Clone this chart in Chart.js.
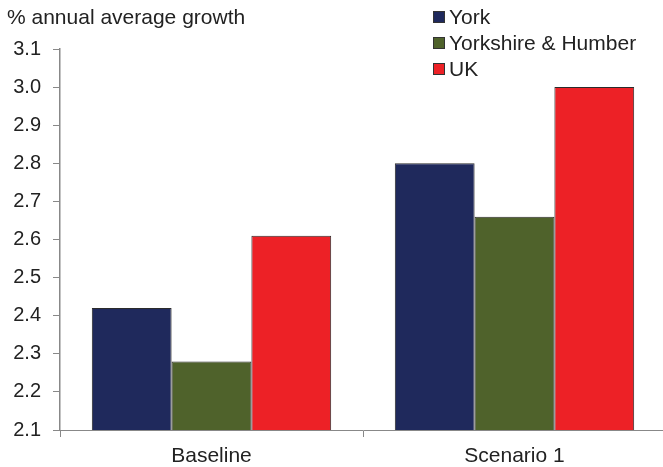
<!DOCTYPE html>
<html>
<head>
<meta charset="utf-8">
<script src="https://cdn.jsdelivr.net/npm/chart.js@4/dist/chart.umd.min.js"></script>
<style>
    body { margin: 0; overflow: hidden; background: #fff; font-family: "Liberation Sans", Arial, sans-serif; color: #222; }
    #wrap { position: relative; width: 670px; height: 467px; }
    #unit { position: absolute; left: 7px; top: 5px; font-size: 21px; }
    #legend { position: absolute; left: 433px; top: 4px; font-size: 21px; }
    .item { height: 26px; line-height: 26px; display: flex; align-items: center; }
    .box { width: 10px; height: 10px; border: 1px solid #333; margin-right: 4px; }
</style>
</head>
<body>
<div id="wrap">
    <canvas id="chart" width="670" height="467"></canvas>
    <div id="unit">% annual average growth</div>
    <div id="legend"></div>
</div>
<script>
const categories = ["Baseline", "Scenario 1"];
const seriesNames = ["York", "Yorkshire & Humber", "UK"];
const york = [2.42, 2.80];
const yorkshireHumber = [2.28, 2.66];
const uk = [2.61, 3.00];
const colors = ["#1f295c", "#4f622b", "#ed2126"];

document.addEventListener("DOMContentLoaded", () => {
    const values = [york, yorkshireHumber, uk];

    // legend as a vertical list, built from the series names
    const legend = document.getElementById("legend");
    seriesNames.forEach((name, i) => {
        const row = document.createElement("div");
        row.className = "item";
        row.innerHTML = '<span class="box" style="background:' + colors[i] + '"></span>' + name.replace("&", "&amp;");
        legend.appendChild(row);
    });

    const ctx = document.getElementById("chart").getContext("2d");
    new Chart(ctx, {
        type: "bar",
        data: {
            labels: categories,
            datasets: seriesNames.map((name, i) => ({
                label: name,
                data: values[i],
                backgroundColor: colors[i],
                borderColor: "#2b2b2b",
                borderWidth: 1,
                categoryPercentage: 0.79,
                barPercentage: 1.0,
            })),
        },
        options: {
            responsive: false,
            animation: false,
            layout: { padding: { top: 49, right: 4, left: 0, bottom: 0 } },
            plugins: {
                legend: { display: false },
                tooltip: { enabled: false },
            },
            scales: {
                x: {
                    grid: { display: true, drawOnChartArea: false, drawTicks: true, tickLength: 7, color: "#888", offset: true },
                    border: { color: "#888", width: 1 },
                    ticks: { color: "#222", font: { family: "Liberation Sans", size: 21 }, padding: 7 },
                    afterFit: (scale) => { scale.height = 37; },
                },
                y: {
                    min: 2.1,
                    max: 3.1,
                    grid: { display: true, drawOnChartArea: false, drawTicks: true, tickLength: 7, color: "#888" },
                    border: { color: "#888", width: 1.5 },
                    ticks: {
                        stepSize: 0.1,
                        color: "#222",
                        padding: 12,
                        font: { family: "Liberation Sans", size: 20 },
                        callback: (v) => Number(v).toFixed(1),
                    },
                    afterFit: (scale) => { scale.width = 60; },
                },
            },
        },
    });
});
</script>
</body>
</html>
